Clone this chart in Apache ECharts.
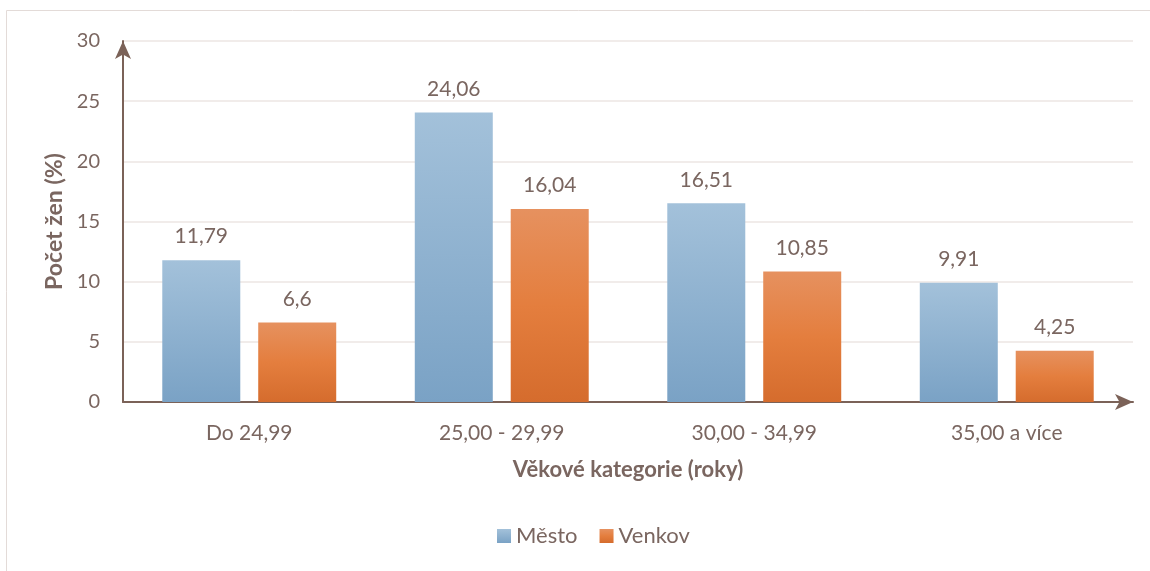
<!DOCTYPE html>
<html><head><meta charset="utf-8">
<script src="https://cdn.jsdelivr.net/npm/echarts@6/dist/echarts.min.js"></script>
<style>html,body{margin:0;padding:0;background:#fff}#c{width:1150px;height:571px}</style>
</head><body><div id="c"></div>
<script>
const categories = ['Do 24,99', '25,00 - 29,99', '30,00 - 34,99', '35,00 a více'];
const mesto = [11.79, 24.06, 16.51, 9.91];
const venkov = [6.6, 16.04, 10.85, 4.25];
const seriesNames = ['Město', 'Venkov'];

const txt = '#7a6660';
const axisC = '#7b6258';
const font = 'Lato, "Open Sans", sans-serif';
const blueGrad = new echarts.graphic.LinearGradient(0,0,0,1,[{offset:0,color:'#a3c1da'},{offset:1,color:'#7aa2c5'}]);
const orGrad = new echarts.graphic.LinearGradient(0,0,0,1,[{offset:0,color:'#e6915f'},{offset:0.5,color:'#e47e3e'},{offset:1,color:'#d56c2d'}]);
const fmt = p => String(p.value).replace('.', ',');

const chart = echarts.init(document.getElementById('c'));
chart.setOption({
  animation: false,
  textStyle: {fontFamily: font},
  graphic: [{type:'rect', shape:{x:6.5,y:10.5,width:1200,height:600}, style:{fill:'none', stroke:'#e3dbd8', lineWidth:1}, silent:true, z:-10}],
  grid: {left:123, right:17, top:41, bottom:169, containLabel:false},
  legend: {
    bottom: 19, left: 492, itemWidth: 14, itemHeight: 14, itemGap: 22, icon: 'rect',
    textStyle: {color: txt, fontSize: 22, fontFamily: font},
    data: seriesNames
  },
  xAxis: {
    type: 'category', data: categories,
    name: 'Věkové kategorie (roky)', nameLocation: 'middle', nameGap: 57,
    nameTextStyle: {color: txt, fontSize: 22, fontWeight: 'bold', fontFamily: font},
    axisLine: {show:true, lineStyle:{color: axisC, width: 2}, symbol:['none','arrow'], symbolSize:[12,18]},
    axisTick: {show:false},
    axisLabel: {color: txt, fontSize: 21, margin: 21, fontFamily: font}
  },
  yAxis: {
    type: 'value', min: 0, max: 30, interval: 5,
    name: 'Počet žen (%)', nameLocation: 'middle', nameGap: 54,
    nameTextStyle: {color: txt, fontSize: 23, fontWeight: 'bold', fontFamily: font},
    axisLine: {show:true, lineStyle:{color: axisC, width: 2}, symbol:['none','arrow'], symbolSize:[12,18]},
    axisTick: {show:false},
    axisLabel: {color: txt, fontSize: 20, margin: 23, fontFamily: font},
    splitLine: {lineStyle: {color: '#ece6e3', width: 1.5}}
  },
  series: [
    {name: seriesNames[0], type: 'bar', data: mesto, barWidth: 78, barGap: '23%',
     itemStyle: {color: blueGrad},
     label: {show: true, position: 'top', distance: 13, color: txt, fontSize: 21, fontFamily: font, formatter: fmt}},
    {name: seriesNames[1], type: 'bar', data: venkov, barWidth: 78,
     itemStyle: {color: orGrad},
     label: {show: true, position: 'top', distance: 13, color: txt, fontSize: 21, fontFamily: font, formatter: fmt}}
  ]
});
</script></body></html>
